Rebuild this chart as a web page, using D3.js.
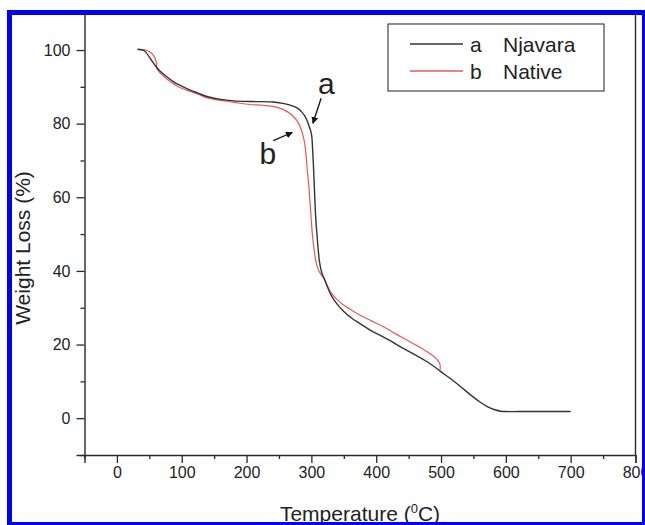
<!DOCTYPE html>
<html>
<head>
<meta charset="utf-8">
<script src="https://cdn.jsdelivr.net/npm/d3@7"></script>
<style>
  html, body { margin: 0; padding: 0; background: #fff; }
  svg { display: block; }
  text { font-family: "Liberation Sans", Arial, Helvetica, sans-serif; fill: #222; }
</style>
</head>
<body>
<svg id="chart" width="645" height="525"></svg>
<script>
// Thermogravimetric curves: temperature (°C) vs remaining weight (%)
const tempA = [32, 42, 53, 60, 66, 75, 88, 100, 112, 125, 140, 160, 180, 210, 240, 256, 266, 274, 280, 285, 289, 293, 297, 300, 302.5, 304.5, 306.5, 309, 312.5, 316, 320.5, 325, 331, 340, 350, 362, 375, 390, 405, 420, 441, 460, 478, 495, 503, 515, 530, 545, 560, 572, 583, 592, 600, 620, 660, 700];
const weightA = [100.2, 99.8, 97.3, 95.6, 94.4, 93.0, 91.3, 90.2, 89.2, 88.3, 87.3, 86.6, 86.2, 86.0, 85.9, 85.5, 85.1, 84.6, 84.0, 83.2, 82.3, 81.0, 79.0, 77.3, 71.0, 63.0, 55.0, 49.0, 42.5, 39.5, 37.6, 35.6, 33.2, 30.9, 29.0, 27.2, 25.7, 24.0, 22.6, 21.2, 19.0, 17.2, 15.4, 13.3, 12.2, 10.7, 8.6, 6.4, 4.4, 3.1, 2.3, 1.9, 1.8, 1.8, 1.8, 1.8];

const tempB = [32, 40, 47, 53, 57, 60, 61.5, 61, 63, 68, 78, 90, 100, 112, 125, 140, 160, 180, 205, 225, 240, 251, 259, 266.4, 272, 276.8, 281, 284.5, 287, 289.6, 291.5, 293.2, 295, 296.5, 298, 301.4, 304, 307.6, 311, 315.3, 320.5, 325, 331, 340, 349, 360, 374.5, 392, 410.5, 428, 446.6, 465, 482.6, 492, 498, 498.5];
const weightB = [100.2, 100.1, 99.8, 99.2, 98.4, 97.2, 96.0, 95.2, 94.6, 93.5, 92.0, 90.5, 89.6, 88.8, 88.0, 87.0, 86.3, 85.8, 85.2, 85.0, 84.7, 84.2, 83.6, 82.8, 82.0, 81.0, 79.8, 78.3, 76.8, 74.7, 72.0, 68.3, 65.0, 62.0, 58.5, 50.2, 46.0, 42.1, 40.2, 38.9, 37.6, 35.8, 33.9, 32.2, 30.8, 29.6, 28.0, 26.5, 24.9, 23.1, 21.3, 19.5, 17.6, 16.3, 14.9, 13.1];

const seriesNames = ["Njavara", "Native"];
const seriesKeys = ["a", "b"];
const seriesColors = ["#333333", "#e8575a"];

const xMajorTicks = [0, 100, 200, 300, 400, 500, 600, 700, 800];
const xMinorTicks = [-50, 50, 150, 250, 350, 450, 550, 650, 750];
const yMajorTicks = [0, 20, 40, 60, 80, 100];
const yMinorTicks = [-10, 10, 30, 50, 70, 90, 110];

const svg = d3.select("#chart");

const x = d3.scaleLinear().domain([-50, 800]).range([84.5, 635.5]);
const y = d3.scaleLinear().domain([-10, 110]).range([455, 13.2]);

// axes
const axColor = "#2a2a2a";
const gx = svg.append("g").attr("transform", `translate(0,${y(-10)})`);
gx.call(d3.axisBottom(x).tickValues(xMajorTicks).tickSize(8).tickPadding(4).tickFormat(d3.format("d")));
gx.append("g").call(d3.axisBottom(x).tickValues(xMinorTicks).tickSize(4).tickFormat(""))
  .select(".domain").remove();

const gy = svg.append("g").attr("transform", `translate(${x(-50)},0)`);
gy.call(d3.axisLeft(y).tickValues(yMajorTicks).tickSize(8).tickPadding(6).tickFormat(d3.format("d")));
gy.append("g").call(d3.axisLeft(y).tickValues(yMinorTicks).tickSize(4).tickFormat(""))
  .select(".domain").remove();

svg.selectAll(".domain").attr("stroke", axColor).attr("stroke-width", 1.4);
svg.selectAll(".tick line").attr("stroke", axColor).attr("stroke-width", 1.3);
svg.selectAll(".tick text").attr("font-size", 16).attr("fill", "#222")
  .style("font-family", '"Liberation Sans", Arial, sans-serif');

// right and top frame lines
svg.append("line").attr("x1", x(800)).attr("x2", x(800)).attr("y1", y(110)).attr("y2", y(-10))
  .attr("stroke", axColor).attr("stroke-width", 1.4);
svg.append("line").attr("x1", x(-50)).attr("x2", x(800)).attr("y1", y(110)).attr("y2", y(110))
  .attr("stroke", axColor).attr("stroke-width", 1.4);

// curves
const line = d3.line().x(d => x(d[0])).y(d => y(d[1])).curve(d3.curveCatmullRom.alpha(0.5));
const dataA = tempA.map((t, i) => [t, weightA[i]]);
const dataB = tempB.map((t, i) => [t, weightB[i]]);

svg.append("path").datum(dataB).attr("d", line).attr("fill", "none")
  .attr("stroke", seriesColors[1]).attr("stroke-width", 1.2);
svg.append("path").datum(dataA).attr("d", line).attr("fill", "none")
  .attr("stroke", seriesColors[0]).attr("stroke-width", 1.4);

// arrow annotations
svg.append("defs").append("marker")
  .attr("id", "arrowhead").attr("viewBox", "0 0 10 10").attr("refX", 9).attr("refY", 5)
  .attr("markerWidth", 7).attr("markerHeight", 7).attr("markerUnits", "userSpaceOnUse")
  .attr("orient", "auto")
  .append("path").attr("d", "M0,0 L10,5 L0,10 z").attr("fill", "#111");

const annotations = [
  { key: "a", label: [323, 91], from: [315, 86.9], to: [302.4, 80.1] },
  { key: "b", label: [233, 72], from: [241, 75.4], to: [270.6, 77.6] }
];
annotations.forEach(a => {
  svg.append("line")
    .attr("x1", x(a.from[0])).attr("y1", y(a.from[1]))
    .attr("x2", x(a.to[0])).attr("y2", y(a.to[1]))
    .attr("stroke", "#111").attr("stroke-width", 1.3)
    .attr("marker-end", "url(#arrowhead)");
  svg.append("text").attr("x", x(a.label[0])).attr("y", y(a.label[1]))
    .attr("text-anchor", "middle").attr("dominant-baseline", "central")
    .attr("font-size", 30).attr("fill", "#111").text(a.key);
});

// legend
const lg = svg.append("g");
lg.append("rect").attr("x", 388).attr("y", 24).attr("width", 216).attr("height", 67)
  .attr("fill", "#fff").attr("stroke", "#444").attr("stroke-width", 1.2);
seriesNames.forEach((name, i) => {
  const cy = 44 + i * 27;
  lg.append("line").attr("x1", 410).attr("x2", 463).attr("y1", cy).attr("y2", cy)
    .attr("stroke", seriesColors[i]).attr("stroke-width", 1.3);
  lg.append("text").attr("x", 470).attr("y", cy).attr("dominant-baseline", "central")
    .attr("font-size", 21).attr("fill", "#222").text(seriesKeys[i]);
  lg.append("text").attr("x", 503).attr("y", cy).attr("dominant-baseline", "central")
    .attr("font-size", 21).attr("fill", "#222").text(name);
});

// axis titles
svg.append("text").attr("transform", "translate(30,248) rotate(-90)")
  .attr("text-anchor", "middle").attr("font-size", 21).attr("fill", "#222")
  .text("Weight Loss (%)");

const xt = svg.append("text").attr("x", (x(-50) + x(800)) / 2).attr("y", 521)
  .attr("text-anchor", "middle").attr("font-size", 21).attr("fill", "#222");
xt.append("tspan").text("Temperature (");
xt.append("tspan").attr("dy", -8).attr("font-size", 13).text("0");
xt.append("tspan").attr("dy", 8).text("C)");

// blue outer frame
const frame = svg.append("g").attr("fill", "#0000f5");
frame.append("rect").attr("x", 7).attr("y", 10).attr("width", 638).attr("height", 5);
frame.append("rect").attr("x", 7).attr("y", 10).attr("width", 5).attr("height", 515);
frame.append("rect").attr("x", 642).attr("y", 10).attr("width", 3).attr("height", 515);
frame.append("rect").attr("x", 7).attr("y", 522).attr("width", 638).attr("height", 3);
</script>
</body>
</html>
